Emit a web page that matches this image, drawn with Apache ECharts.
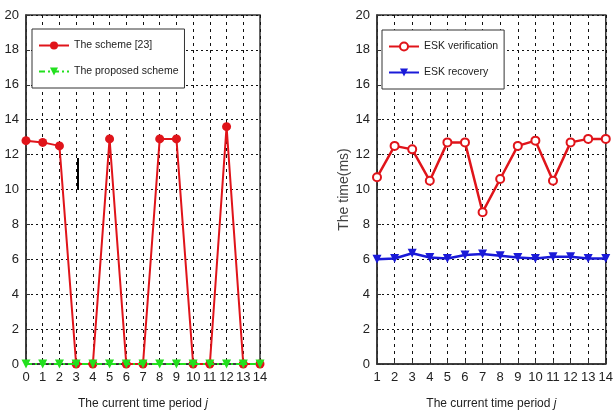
<!DOCTYPE html>
<html>
<head>
<meta charset="utf-8">
<script src="https://cdn.jsdelivr.net/npm/echarts@6/dist/echarts.min.js"></script>
<style>
  html, body { margin: 0; padding: 0; background: #fff; }
  #main { width: 616px; height: 417px; }
</style>
</head>
<body>
<div id="main"></div>
<script>
// left panel: period 0..14
var periodsA = [0, 1, 2, 3, 4, 5, 6, 7, 8, 9, 10, 11, 12, 13, 14];
var scheme23 = [12.8, 12.7, 12.5, 0, 0, 12.9, 0, 0, 12.9, 12.9, 0, 0, 13.6, 0, 0];
var proposed = [0, 0, 0, 0, 0, 0, 0, 0, 0, 0, 0, 0, 0, 0, 0];

// right panel: period 1..14
var periodsB = [1, 2, 3, 4, 5, 6, 7, 8, 9, 10, 11, 12, 13, 14];
var eskVerify = [10.7, 12.5, 12.3, 10.5, 12.7, 12.7, 8.7, 10.6, 12.5, 12.8, 10.5, 12.7, 12.9, 12.9];
var eskRecover = [6.0, 6.05, 6.35, 6.1, 6.05, 6.25, 6.3, 6.2, 6.1, 6.05, 6.15, 6.15, 6.05, 6.05];

var yTicks = [0, 2, 4, 6, 8, 10, 12, 14, 16, 18, 20];

var font = '"Liberation Sans Narrow", "Liberation Sans", Arial, sans-serif';

function pairs(xs, ys) {
  return xs.map(function (x, i) { return [x, ys[i]]; });
}

function xAxisFor(idx, min, max) {
  return {
    type: 'value', gridIndex: idx, min: min, max: max, interval: 1,
    name: 'The current time period {i|j}',
    nameLocation: 'middle', nameGap: 34,
    nameTextStyle: { fontFamily: font, fontSize: 12, color: '#222',
      rich: { i: { fontStyle: 'italic', fontFamily: font, fontSize: 12, color: '#222' } } },
    axisLine: { show: true, onZero: false, lineStyle: { color: '#333', width: 1.5 } },
    axisTick: { show: true, inside: true, length: 4, lineStyle: { color: '#333' } },
    axisLabel: { fontFamily: font, fontSize: 13, color: '#222', margin: 7 },
    splitLine: { show: true, lineStyle: { color: '#111', type: [3, 4], width: 1 } }
  };
}

function yAxisFor(idx, title) {
  return {
    type: 'value', gridIndex: idx, min: 0, max: 20, interval: 2,
    name: title, nameLocation: 'middle', nameGap: 18,
    nameTextStyle: { fontFamily: font, fontSize: 14, color: '#444' },
    axisLine: { show: true, lineStyle: { color: '#333', width: 1.5 } },
    axisTick: { show: true, inside: true, length: 4, lineStyle: { color: '#333' } },
    axisLabel: { fontFamily: font, fontSize: 13, color: '#222', margin: 7,
      formatter: function (v) { return yTicks.indexOf(v) >= 0 ? String(v) : ''; } },
    splitLine: { show: true, lineStyle: { color: '#111', type: [2, 3], width: 1 } }
  };
}

var legendBase = {
  orient: 'vertical', backgroundColor: '#fff', borderColor: '#333', borderWidth: 1,
  borderRadius: 0, padding: [11, 6, 11, 6], itemGap: 15, itemWidth: 30, itemHeight: 10,
  textStyle: { fontFamily: font, fontSize: 10.5, color: '#222' }
};

var chart = echarts.init(document.getElementById('main'));
chart.setOption({
  animation: false,
  backgroundColor: '#fff',
  grid: [
    { left: 26, right: 356, top: 15, bottom: 53, show: true, borderColor: '#333', borderWidth: 1.5 },
    { left: 377, right: 8, top: 15, bottom: 53, show: true, borderColor: '#333', borderWidth: 1.5 }
  ],
  xAxis: [xAxisFor(0, 0, 14), xAxisFor(1, 1, 14)],
  yAxis: [yAxisFor(0, ''), yAxisFor(1, 'The time(ms)')],
  legend: [
    Object.assign({}, legendBase, { left: 32, top: 29,
      data: ['The scheme [23]', 'The proposed scheme'] }),
    Object.assign({}, legendBase, { left: 382, top: 30, padding: [11, 6, 11, 6],
      data: ['ESK verification', 'ESK recovery'] })
  ],
  graphic: [
    { type: 'rect', shape: { x: 77, y: 158, width: 2, height: 32 }, style: { fill: '#000' } }
  ],
  series: [
    { name: 'The scheme [23]', type: 'line', xAxisIndex: 0, yAxisIndex: 0,
      data: pairs(periodsA, scheme23), symbol: 'circle', symbolSize: 9,
      itemStyle: { color: '#e0141a' }, lineStyle: { color: '#e0141a', width: 2 }, z: 3 },
    { name: 'The proposed scheme', type: 'line', xAxisIndex: 0, yAxisIndex: 0,
      data: pairs(periodsA, proposed), symbol: 'triangle', symbolRotate: 180, symbolSize: 9,
      itemStyle: { color: '#22e01e' }, lineStyle: { color: '#22e01e', width: 2, type: [6, 3, 2, 3] }, z: 4 },
    { name: 'ESK verification', type: 'line', xAxisIndex: 1, yAxisIndex: 1,
      data: pairs(periodsB, eskVerify), symbol: 'emptyCircle', symbolSize: 8,
      itemStyle: { color: '#e0141a', borderWidth: 2.5 }, lineStyle: { color: '#e0141a', width: 2.5 }, z: 3 },
    { name: 'ESK recovery', type: 'line', xAxisIndex: 1, yAxisIndex: 1,
      data: pairs(periodsB, eskRecover), symbol: 'triangle', symbolRotate: 180, symbolSize: 9,
      itemStyle: { color: '#1a1ad8' }, lineStyle: { color: '#1a1ad8', width: 2.5 }, z: 3 }
  ]
});
</script>
</body>
</html>
